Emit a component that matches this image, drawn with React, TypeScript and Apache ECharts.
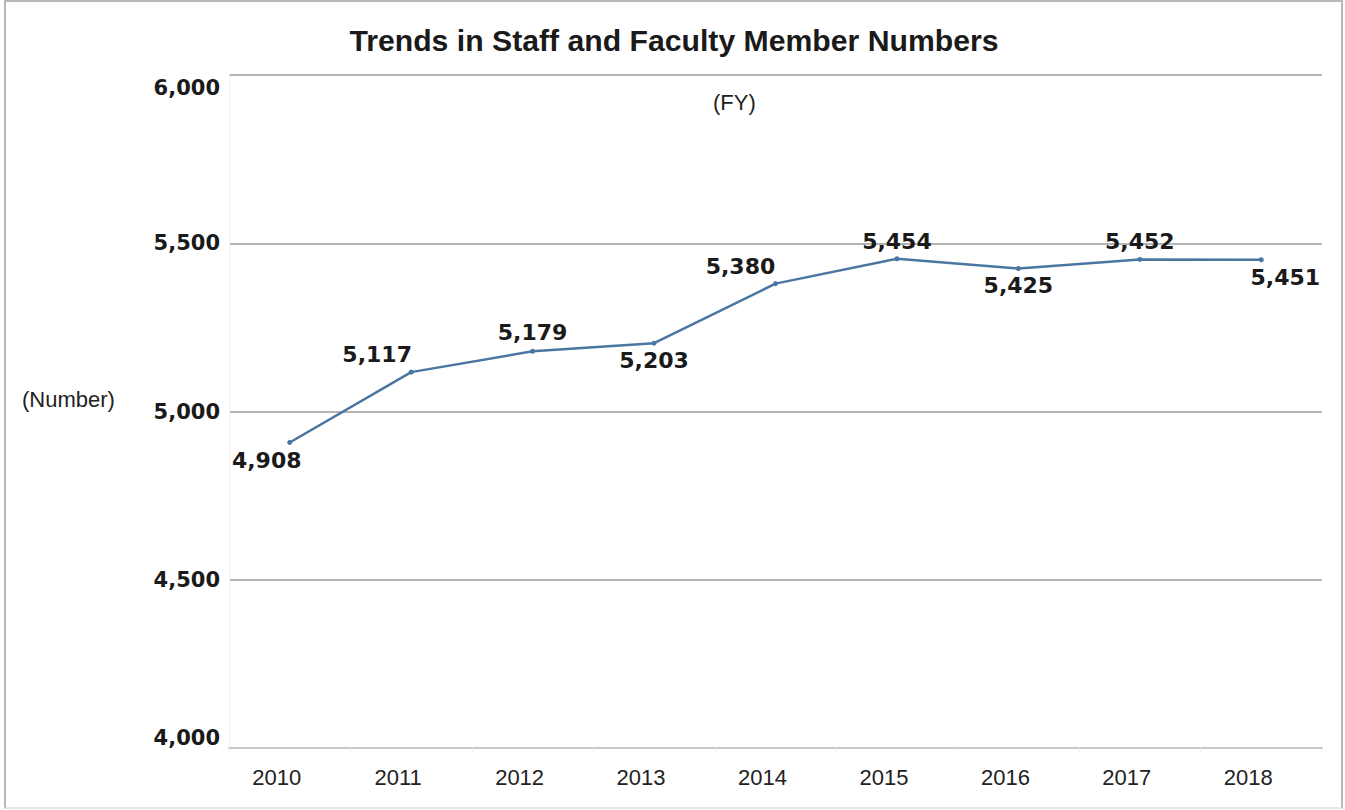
import React, { useEffect, useRef } from "react";
import * as echarts from "echarts";

const years = ["2010", "2011", "2012", "2013", "2014", "2015", "2016", "2017", "2018"];
const staffCounts = [4908, 5117, 5179, 5203, 5380, 5454, 5425, 5452, 5451];
// label placement per point: [position, dx, dy]
const labelPlacement: [string, number, number][] = [
  ["bottom", -23, 1],
  ["top", -34, 0],
  ["top", 0, -1],
  ["bottom", 0, 0],
  ["top", -35, 0],
  ["top", 0, 0],
  ["bottom", 0, 0],
  ["top", 0, 0],
  ["bottom", 24, 0],
];

const fmt = (v: number) => v.toLocaleString("en-US");
const wide = "DejaVu Sans, Verdana, sans-serif";
const arial = "Liberation Sans, Arial, sans-serif";

export default function App() {
  const ref = useRef<HTMLDivElement>(null);
  useEffect(() => {
    const chart = echarts.init(ref.current!, null, { renderer: "svg" });
    chart.setOption({
      animation: false,
      backgroundColor: "transparent",
      title: {
        text: "Trends in Staff and Faculty Member Numbers",
        left: 669,
        textAlign: "center",
        top: 20,
        textStyle: { fontFamily: arial, fontSize: 30.2, fontWeight: "bold", color: "#1a1a1a" },
      },
      graphic: [
        {
          type: "text",
          left: 713,
          top: 91,
          style: { text: "(FY)", font: "22px Liberation Sans, Arial, sans-serif", fill: "#222" },
        },
        {
          type: "text",
          left: 22,
          top: 388,
          style: { text: "(Number)", font: "22px Liberation Sans, Arial, sans-serif", fill: "#222" },
        },
      ],
      grid: { left: 229, right: 23, top: 75, bottom: 62, containLabel: false },
      xAxis: {
        type: "category",
        data: years,
        boundaryGap: true,
        axisLine: { show: true, lineStyle: { color: "#c8c8d0", width: 2 } },
        axisTick: { show: true, alignWithLabel: false, length: 4, lineStyle: { color: "#eeeeee" } },
        axisLabel: {
          color: "#222",
          fontSize: 22,
          fontFamily: arial,
          margin: 18,
          padding: [0, 26, 0, 0],
        },
        splitLine: { show: false },
      },
      yAxis: {
        type: "value",
        min: 4000,
        max: 6000,
        interval: 500,
        axisLine: { show: true, lineStyle: { color: "#f0f0f0", width: 1 } },
        axisTick: { show: false },
        axisLabel: {
          formatter: (v: number) =>
            v === 6000 ? `{top|${fmt(v)}}` : v === 4000 ? `{bot|${fmt(v)}}` : `{mid|${fmt(v)}}`,
          color: "#1a1a1a",
          fontSize: 21,
          fontWeight: "bold",
          fontFamily: wide,
          margin: 9,
          rich: {
            top: { fontSize: 21, fontWeight: "bold", fontFamily: wide, color: "#1a1a1a", padding: [26, 0, 0, 0] },
            mid: { fontSize: 21, fontWeight: "bold", fontFamily: wide, color: "#1a1a1a" },
            bot: { fontSize: 21, fontWeight: "bold", fontFamily: wide, color: "#1a1a1a", padding: [0, 0, 20, 0] },
          },
        },
        splitLine: { show: true, lineStyle: { color: "#b4b4b4", width: 2 } },
      },
      series: [
        {
          type: "line",
          data: staffCounts.map((v, i) => ({
            value: v,
            label: {
              position: labelPlacement[i][0],
              offset: [labelPlacement[i][1], labelPlacement[i][2]],
            },
          })),
          symbol: "circle",
          symbolSize: 5,
          lineStyle: { color: "#4a77a2", width: 2.5 },
          itemStyle: { color: "#4a77a2" },
          label: {
            show: true,
            formatter: (p: any) => fmt(p.value),
            color: "#1a1a1a",
            fontSize: 22,
            fontWeight: "bold",
            fontFamily: wide,
            distance: 4,
          },
        },
      ],
    });
    return () => chart.dispose();
  }, []);
  return (
    <div
      style={{
        position: "fixed",
        left: 0,
        top: 0,
        width: 1345,
        height: 810,
        background: "#fff",
        boxSizing: "border-box",
      }}
    >
      <div
        style={{
          position: "absolute",
          left: 4,
          top: 0,
          width: 1339,
          height: 809,
          border: "2px solid #b8b8b8",
          borderBottomColor: "#e6e6e6",
          boxSizing: "border-box",
        }}
      />
      <div ref={ref} style={{ position: "absolute", left: 0, top: 0, width: 1345, height: 810 }} />
    </div>
  );
}
